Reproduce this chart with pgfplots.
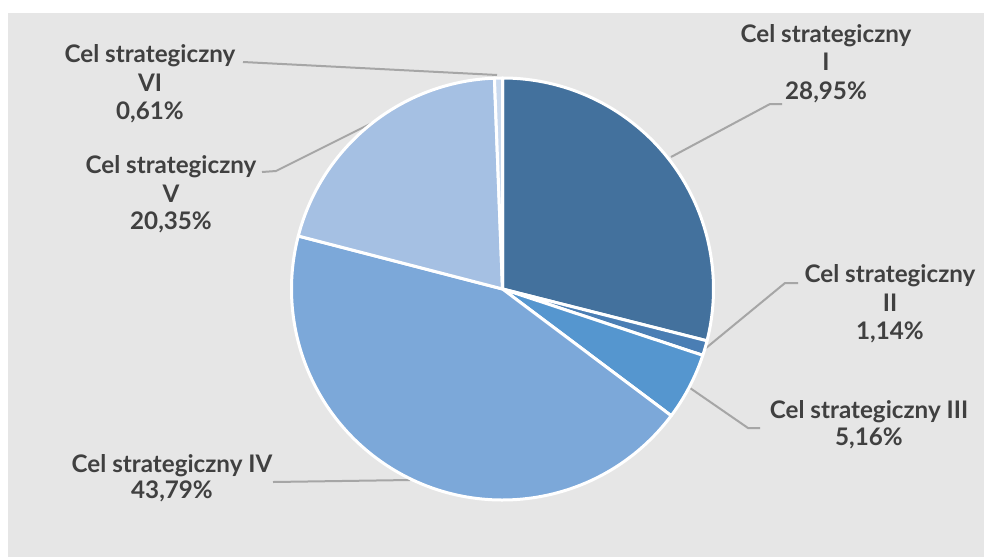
\documentclass[border=0pt]{standalone}
\usepackage{pgfplots}
\pgfplotsset{compat=1.18}
\usepackage{fontspec}
\setmainfont{Lato}

\definecolor{bgc}{HTML}{E6E6E6}
\definecolor{txt}{HTML}{404040}
\definecolor{lead}{HTML}{A6A6A6}
\definecolor{cI}{HTML}{43719D}
\definecolor{cII}{HTML}{4A7EB4}
\definecolor{cIII}{HTML}{5596CF}
\definecolor{cIV}{HTML}{7CA8D9}
\definecolor{cV}{HTML}{A5C0E3}
\definecolor{cVI}{HTML}{C9D9EE}

% one line of a label: x, baseline y (pixels), text
\newcommand\lbl[3]{\node[anchor=base, text=txt, font=\fontsize{12.1}{14}\selectfont\bfseries, inner sep=0pt] at (axis cs:#1,#2) {#3};}

\begin{document}
\begin{tikzpicture}
\begin{axis}[
  width=492pt, height=278.5pt, scale only axis,
  xmin=0, xmax=984, ymin=0, ymax=557, y dir=reverse,
  hide axis, clip=false]
\fill[white] (axis cs:0,0) rectangle (axis cs:984,557);
\fill[bgc] (axis cs:8,13) rectangle (axis cs:984,557);
\coordinate (c) at (axis cs:502.5,289);

% leader lines
\draw[lead, line width=1pt] (axis cs:671,157) -- (axis cs:770,104) -- (axis cs:782,104);
\draw[lead, line width=1pt] (axis cs:706,348) -- (axis cs:785,283) -- (axis cs:798,283);
\draw[lead, line width=1pt] (axis cs:690,388) -- (axis cs:748,428) -- (axis cs:760,428);
\draw[lead, line width=1pt] (axis cs:410,480) -- (axis cs:273,482);
\draw[lead, line width=1pt] (axis cs:372,123) -- (axis cs:276,171) -- (axis cs:262,172);
\draw[lead, line width=1pt] (axis cs:497,75) -- (axis cs:243,62);

% labels
\lbl{826}{42.7}{Cel strategiczny}
\lbl{826}{70}{I}
\lbl{826}{99}{28,95\%}
\lbl{890}{282}{Cel strategiczny}
\lbl{890}{311}{II}
\lbl{890}{339}{1,14\%}
\lbl{869}{418}{Cel strategiczny III}
\lbl{869}{445}{5,16\%}
\lbl{172}{472}{Cel strategiczny IV}
\lbl{172}{498}{43,79\%}
\lbl{171}{173}{Cel strategiczny}
\lbl{171}{202}{V}
\lbl{171}{229}{20,35\%}
\lbl{150}{62}{Cel strategiczny}
\lbl{150}{91}{VI}
\lbl{150}{119}{0,61\%}
\end{axis}

% pie wedges, clockwise from the top, shares in percent
\def\R{105.5pt}
\gdef\ang{90}
\foreach \v/\col in {28.95/cI, 1.14/cII, 5.16/cIII, 43.79/cIV, 20.35/cV, 0.61/cVI}{
  \pgfmathsetmacro\e{\ang-3.6*\v}
  \fill[\col, draw=white, line width=1.5pt, line join=round]
    (c) -- ++(\ang:\R) arc[start angle=\ang, end angle=\e, radius=\R] -- cycle;
  \xdef\ang{\e}
}
\end{tikzpicture}
\end{document}
